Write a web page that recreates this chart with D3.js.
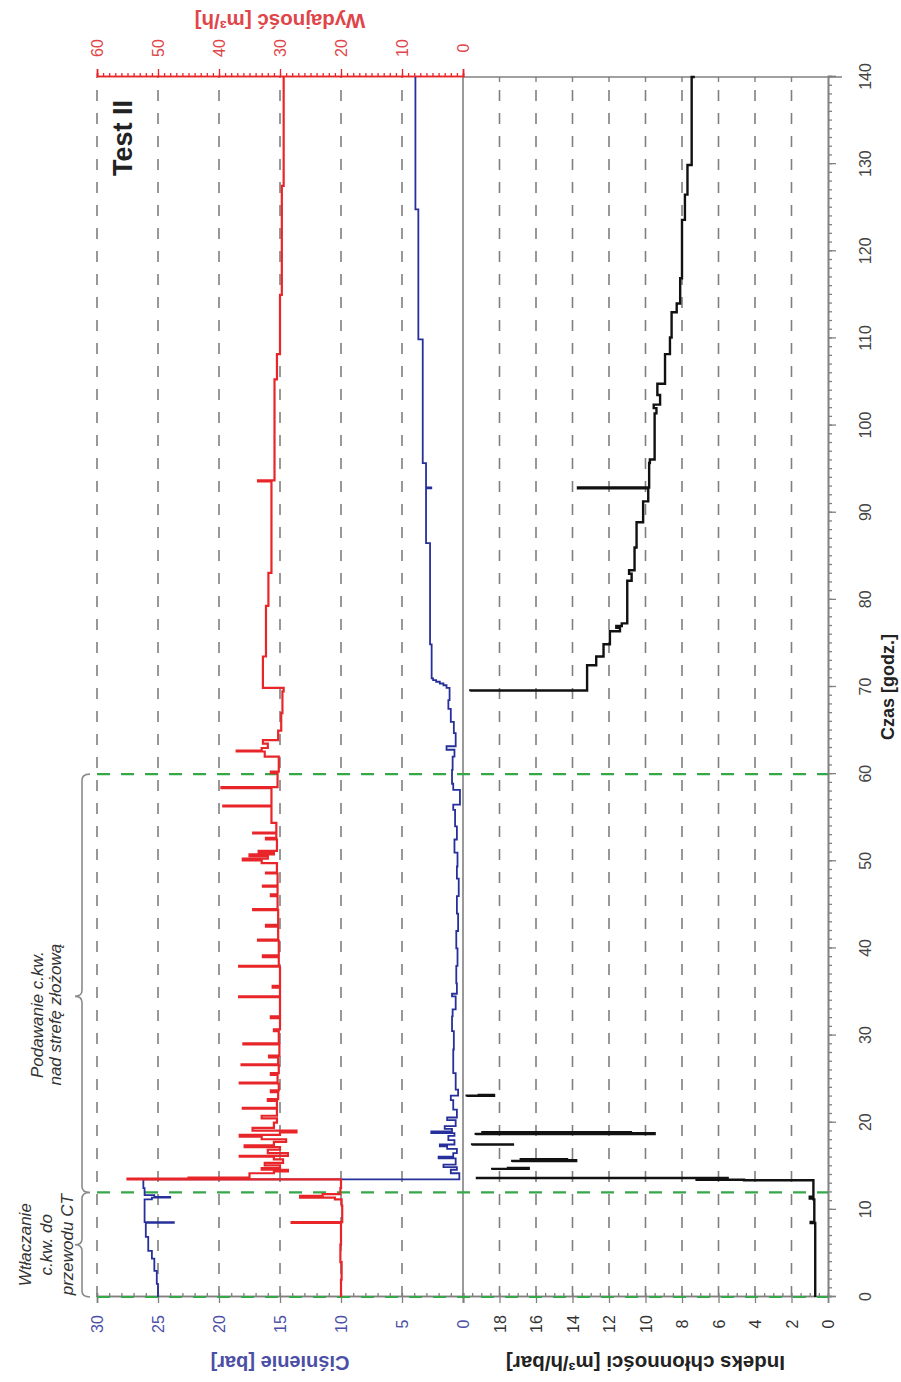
<!DOCTYPE html>
<html>
<head>
<meta charset="utf-8">
<script src="https://cdn.jsdelivr.net/npm/d3@7"></script>
<style>
  html, body { margin: 0; padding: 0; background: #ffffff; }
  svg { display: block; font-family: "Liberation Sans", Arial, sans-serif; }
</style>
</head>
<body>
<svg id="chart" width="901" height="1382"></svg>
<script>
// ---- data -------------------------------------------------------------
const timeTicks = d3.range(0, 141, 10);          // Czas [godz.]
const pressureTicks = [0, 5, 10, 15, 20, 25, 30];  // Ciśnienie [bar]
const rateTicks = [0, 10, 20, 30, 40, 50, 60];     // Wydajność [m3/h]
const indexTicks = [0, 2, 4, 6, 8, 10, 12, 14, 16, 18]; // Indeks chłonności
const phaseMarks = [0, 12, 60];                    // phase boundaries [h]

// [time h, pressure bar]
const pressure = [
  [0,25.0],[1.5,25.1],[3.0,25.3],[4.4,25.5],[5.3,25.8],[6.9,26.0],[8.5,23.7],[8.6,26.1],
  [10.5,26.1],[11.2,25.5],[11.4,24.0],[11.5,25.3],[11.7,26.1],[12.5,26.2],
  [13.5,0.3],[14.2,1.0],[14.6,0.5],[14.9,1.6],[15.2,0.6],[15.9,2.0],[16.1,0.8],[16.5,0.5],
  [17.0,1.3],[17.3,1.9],[17.5,0.7],[18.0,1.2],[18.5,0.7],[18.8,2.6],[19.0,0.9],[19.3,1.5],
  [19.6,0.6],[20.3,1.3],[20.6,0.5],[21.5,0.8],[22.6,1.0],[23.1,0.4],[23.8,0.6],[25.7,0.8],
  [28.4,0.75],[30.5,0.9],[32.2,0.85],[33.0,0.6],[34.5,0.9],[34.8,0.5],[36.0,0.55],[38.0,0.45],
  [40.0,0.55],[42.0,0.4],[44.0,0.5],[46.0,0.35],[48.0,0.5],[49.4,0.45],[51.0,0.7],[52.5,0.5],
  [54.0,0.65],[55.9,0.8],[56.5,0.25],[58.2,0.8],[58.9,0.9],[60.5,0.85],[62.0,0.7],[62.8,1.35],
  [63.2,0.6],[64.7,0.75],[66.0,1.0],[67.5,1.2],[68.5,1.1],
  [69.9,1.35],[70.2,1.6],[70.4,1.9],[70.6,2.2],[70.8,2.45],[71.0,2.57],[74.9,2.7],[86.5,3.03],
  [92.8,2.6],[92.9,3.03],[95.7,3.3],[109.9,3.66],[124.8,3.9],[140,3.9]
];

// [time h, rate m3/h]
const rate = [
  [0,20.0],[2.0,19.9],[4.0,20.1],[6.0,20.0],[8.4,20.0],[8.5,28.1],[8.6,19.8],[10.5,19.9],
  [11.2,21.0],[11.4,26.7],[11.6,23.0],[11.8,20.1],[12.5,20.0],
  [13.5,55.0],[13.6,45.0],[13.7,35.0],[14.2,31.0],[14.4,28.7],[14.6,33.0],[14.8,30.0],[15.1,32.5],
  [15.4,29.5],[15.8,31.0],[16.1,36.6],[16.2,28.7],[16.5,32.0],[16.9,30.0],[17.2,35.8],[17.4,31.0],
  [17.8,29.0],[18.1,33.0],[18.4,36.6],[18.6,30.0],[18.9,27.3],[19.1,34.5],[19.4,31.0],[20.0,30.5],
  [20.5,33.0],[20.8,30.5],[21.6,36.1],[21.7,30.5],[22.5,32.0],[22.7,30.3],[23.5,31.5],[23.7,30.2],
  [24.5,36.6],[24.6,30.4],[25.5,31.5],[25.7,30.2],[26.6,36.3],[26.7,30.3],[27.5,31.8],[27.7,30.1],
  [29.0,36.0],[29.1,30.2],[30.5,31.0],[30.7,30.0],[32.0,31.5],[32.2,30.0],[34.4,36.7],[34.5,30.0],
  [35.5,31.2],[35.7,30.0],[37.9,36.7],[38.0,30.2],[39.0,32.8],[39.2,30.2],[40.9,33.6],[41.0,30.3],
  [42.5,32.3],[42.7,30.3],[44.4,34.4],[44.5,30.4],[46.0,31.5],[46.2,30.4],[47.1,32.8],[47.2,30.4],
  [48.6,32.3],[48.7,30.5],[49.8,33.0],[50.1,36.1],[50.3,32.0],[50.6,35.0],[50.8,31.0],[51.0,33.5],
  [51.2,30.5],[52.5,32.3],[52.7,30.6],[53.2,34.4],[53.3,30.6],[54.4,31.4],[56.3,39.3],[56.4,31.4],
  [58.4,39.6],[58.5,30.4],[60.1,31.5],[60.3,30.2],[62.0,32.5],[62.6,37.1],[62.7,33.0],[63.0,32.0],
  [63.5,32.8],[63.9,30.3],[65.0,29.8],[67.0,29.6],[69.5,29.4],
  [69.9,32.8],[73.5,32.3],[79.3,31.9],[83.1,31.4],[93.6,33.6],[93.7,30.9],[105.3,30.5],
  [108.2,30.0],[115.0,29.7],[127.5,29.4],[140,29.4]
];

// [time h, injectivity index m3/h/bar]; null marks a break in the record
const injectivity = [
  [0,0.7],[8.4,0.7],[8.5,0.95],[8.6,0.75],[11.2,0.8],[11.3,1.0],[11.5,0.8],[13.3,0.8],
  [13.4,4.6],[13.45,7.2],[13.55,5.5],[13.65,19.3],[13.7,null],
  [14.6,18.4],[14.7,16.4],[14.8,17.6],[14.9,null],
  [15.5,17.3],[15.6,13.8],[15.7,14.3],[15.8,16.9],[15.9,null],
  [17.4,19.5],[17.5,17.2],[17.6,null],
  [18.6,19.3],[18.7,9.5],[18.8,10.8],[18.9,19.0],[19.0,null],
  [23.0,19.8],[23.1,18.3],[23.2,19.2],[23.3,null],
  [69.5,19.6],[69.6,13.2],[72.5,12.7],[73.5,12.3],[74.9,11.95],[76.4,11.4],[76.8,11.6],
  [77.0,11.3],[77.3,11.0],[82.2,10.76],[83.0,10.9],[83.4,10.6],[86.0,10.49],[88.9,10.13],
  [91.3,9.85],[92.8,13.7],[92.9,9.8],[95.7,9.76],[96.1,9.5],[101.4,9.4],[102.0,9.55],
  [102.4,9.2],[103.5,9.35],[104.8,8.93],[108.2,8.66],[110.1,8.57],[113.0,8.29],[114.0,8.1],
  [116.9,8.0],[123.6,7.84],[126.5,7.7],[129.9,7.47],[140,7.3]
];

// ---- layout (drawn landscape, then turned a quarter turn) -----------------
const svg = d3.select("#chart");
const W = 1382;
const g = svg.append("g").attr("transform", `translate(0,${W}) rotate(-90)`);

const x  = d3.scaleLinear().domain([0, 140]).range([85, 1305]);
const yP = d3.scaleLinear().domain([0, 30]).range([463, 97]);
const yR = d3.scaleLinear().domain([0, 60]).range([463, 97]);
const yK = d3.scaleLinear().domain([0, 20]).range([828, 463]);

const GRID = "#7f7f7f", AXIS = "#808080";
const BLUE = "#27309a", RED = "#e8262a", BLACK = "#111111", GREEN = "#35a84a";
const BLUE_TXT = "#4b4fa6", RED_TXT = "#e0454a";

// value grid (dashed)
const grid = g.append("g").attr("stroke", GRID).attr("stroke-width", 1.6)
  .attr("stroke-dasharray", "11,12");
grid.selectAll("line.p").data(pressureTicks.filter(d => d > 0)).join("line")
  .attr("x1", x(0)).attr("x2", x(140)).attr("y1", d => yP(d)).attr("y2", d => yP(d));
grid.selectAll("line.k").data(indexTicks.filter(d => d > 0)).join("line")
  .attr("x1", x(0)).attr("x2", x(140)).attr("y1", d => yK(d)).attr("y2", d => yK(d));

// panel separator and right edge of lower panel
g.append("line").attr("x1", x(0)).attr("x2", x(140)).attr("y1", yP(0)).attr("y2", yP(0))
  .attr("stroke", AXIS).attr("stroke-width", 1.6);
g.append("line").attr("x1", x(140)).attr("x2", x(140)).attr("y1", yK(20)).attr("y2", yK(0) + 14)
  .attr("stroke", AXIS).attr("stroke-width", 1.6);
g.append("g").selectAll("line").data(indexTicks.filter(d => d > 0)).join("line")
  .attr("x1", x(140)).attr("x2", x(140) - 5).attr("y1", d => yK(d)).attr("y2", d => yK(d))
  .attr("stroke", AXIS).attr("stroke-width", 1.4);

// ---- axes -------------------------------------------------------------
function styleAxis(sel, color) {
  sel.select(".domain").attr("stroke", color).attr("stroke-width", 1.6);
  sel.selectAll(".tick line").attr("stroke", color).attr("stroke-width", 1.3);
}

// time axis (bottom of lower panel)
const tMinor = g.append("g").attr("transform", `translate(0,${yK(0)})`)
  .call(d3.axisBottom(x).tickValues(d3.range(0, 141, 1)).tickSize(4).tickFormat(""));
styleAxis(tMinor, AXIS);
const tAxis = g.append("g").attr("transform", `translate(0,${yK(0)})`)
  .call(d3.axisBottom(x).tickValues(timeTicks).tickSize(8));
styleAxis(tAxis, AXIS);
tAxis.selectAll("text").attr("y", 37).attr("dy", "0.35em")
  .attr("font-size", 16).attr("fill", "#444");

// pressure axis (left of upper panel)
const pMinor = g.append("g").attr("transform", `translate(${x(0)},0)`)
  .call(d3.axisRight(yP).tickValues(d3.range(0, 31, 1)).tickSize(4).tickFormat(""));
styleAxis(pMinor, AXIS);
const pAxis = g.append("g").attr("transform", `translate(${x(0)},0)`)
  .call(d3.axisLeft(yP).tickValues(pressureTicks).tickSize(6));
styleAxis(pAxis, AXIS);
pAxis.selectAll("text").attr("x", -27).attr("text-anchor", "middle").attr("dy", "0.35em")
  .attr("font-size", 16).attr("fill", BLUE_TXT);

// injectivity index axis (left of lower panel)
const kMinor = g.append("g").attr("transform", `translate(${x(0)},0)`)
  .call(d3.axisRight(yK).tickValues(d3.range(0, 20.1, 0.5)).tickSize(4).tickFormat(""));
styleAxis(kMinor, AXIS);
const kAxis = g.append("g").attr("transform", `translate(${x(0)},0)`)
  .call(d3.axisLeft(yK).tickValues(indexTicks).tickSize(6));
styleAxis(kAxis, AXIS);
kAxis.selectAll("text").attr("x", -27).attr("text-anchor", "middle").attr("dy", "0.35em")
  .attr("font-size", 16).attr("fill", "#333");

// rate axis (right of upper panel)
const rMinor = g.append("g").attr("transform", `translate(${x(140)},0)`)
  .call(d3.axisRight(yR).tickValues(d3.range(0, 61, 1)).tickSize(4).tickFormat(""));
styleAxis(rMinor, RED);
const rAxis = g.append("g").attr("transform", `translate(${x(140)},0)`)
  .call(d3.axisRight(yR).tickValues(rateTicks).tickSize(8));
styleAxis(rAxis, RED);
rAxis.selectAll("text").attr("x", 29).attr("text-anchor", "middle").attr("dy", "0.35em")
  .attr("font-size", 16).attr("fill", RED_TXT);

// phase boundaries
g.append("g").selectAll("line").data(phaseMarks).join("line")
  .attr("x1", d => x(d)).attr("x2", d => x(d)).attr("y1", yR(60)).attr("y2", yK(0))
  .attr("stroke", GREEN).attr("stroke-width", 2.2).attr("stroke-dasharray", "13,11");

// ---- series -----------------------------------------------------------
const lineP = d3.line().x(d => x(d[0])).y(d => yP(d[1])).curve(d3.curveStepAfter);
const lineR = d3.line().x(d => x(d[0])).y(d => yR(d[1])).curve(d3.curveStepAfter);
const lineK = d3.line().defined(d => d[1] != null)
  .x(d => x(d[0])).y(d => yK(d[1])).curve(d3.curveStepAfter);

g.append("path").datum(pressure).attr("d", lineP)
  .attr("fill", "none").attr("stroke", BLUE).attr("stroke-width", 1.8);
g.append("path").datum(rate).attr("d", lineR)
  .attr("fill", "none").attr("stroke", RED).attr("stroke-width", 2.2);
g.append("path").datum(injectivity).attr("d", lineK)
  .attr("fill", "none").attr("stroke", BLACK).attr("stroke-width", 2.4);

// ---- titles -----------------------------------------------------------
g.append("text").attr("x", x(70)).attr("y", 888).attr("dy", "0.35em")
  .attr("text-anchor", "middle").attr("font-size", 18).attr("font-weight", "bold")
  .attr("fill", "#222").text("Czas [godz.]");

function sideTitle(u, v, txt, color, size) {
  g.append("text").attr("transform", `translate(${u},${v}) rotate(-90)`)
    .attr("dy", "0.35em").attr("text-anchor", "middle")
    .attr("font-size", size).attr("font-weight", "bold").attr("fill", color).text(txt);
}
sideTitle(19, (yP(0) + yP(30)) / 2, "Ciśnienie [bar]", BLUE_TXT, 20);
sideTitle(19, (yK(0) + yK(20)) / 2, "Indeks chłonności [m³/h/bar]", "#222", 20.5);
sideTitle(1361, (yR(0) + yR(60)) / 2, "Wydajność [m³/h]", RED_TXT, 20.5);

g.append("text").attr("x", x(133)).attr("y", 123).attr("dy", "0.35em")
  .attr("text-anchor", "middle").attr("font-size", 27).attr("font-weight", "bold")
  .attr("fill", "#222").text("Test II");

// ---- phase annotations --------------------------------------------------
function brace(t0, t1, tm) {
  const a = x(t0), b = x(t1), m = x(tm), v = 82;
  return `M${a},${v + 8} Q${a},${v} ${a + 6},${v} L${m - 6},${v} Q${m},${v} ${m},${v - 7}` +
         ` Q${m},${v} ${m + 6},${v} L${b - 6},${v} Q${b},${v} ${b},${v + 8}`;
}
g.append("path").attr("d", brace(0, 12, 6))
  .attr("fill", "none").attr("stroke", "#8a8a8a").attr("stroke-width", 1.6);
g.append("path").attr("d", brace(12, 60, 34.5))
  .attr("fill", "none").attr("stroke", "#8a8a8a").attr("stroke-width", 1.6);

function note(tc, lines, vs) {
  g.append("g").selectAll("text").data(lines).join("text")
    .attr("x", x(tc)).attr("y", (d, i) => vs[i]).attr("dy", "0.35em")
    .attr("text-anchor", "middle").attr("font-size", 17).attr("font-style", "italic")
    .attr("fill", "#333").text(d => d);
}
note(6, ["Wtłaczanie", "c.kw. do", "przewodu CT"], [25, 46, 67]);
note(32.4, ["Podawanie c.kw.", "nad strefę złożową"], [37, 55]);
</script>
</body>
</html>
